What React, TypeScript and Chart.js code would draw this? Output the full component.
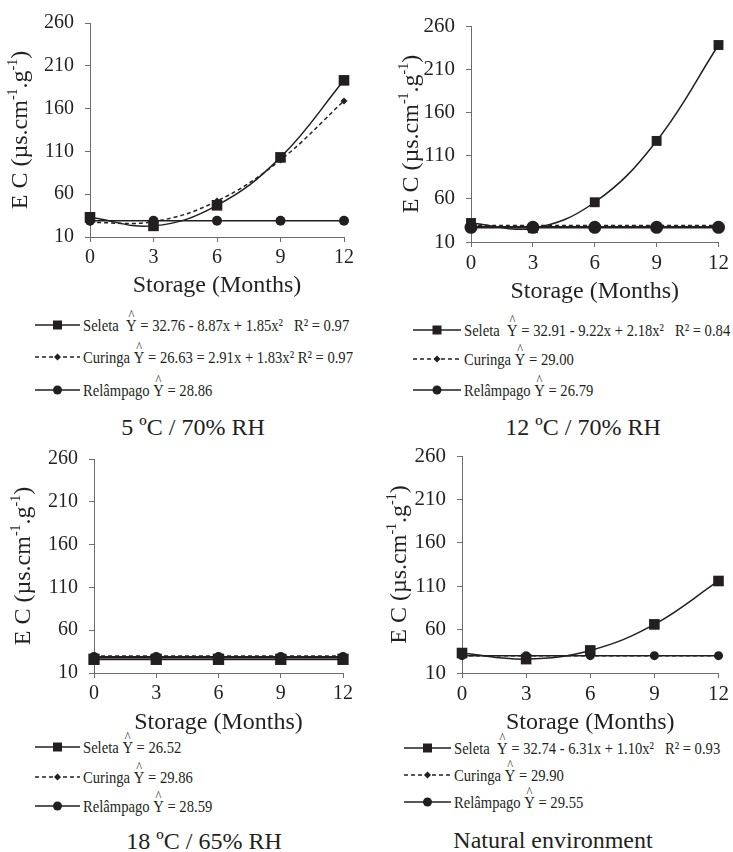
import React, { useEffect, useRef } from 'react';
import { Chart, registerables } from 'chart.js';

Chart.register(...registerables);

// ---------- data ----------
const months = [0, 3, 6, 9, 12];
const yTickValues = [10, 60, 110, 160, 210, 260];
const seriesNames = ['Seleta', 'Curinga', 'Relâmpago'];

// 5 ºC / 70% RH
const seletaA = [33, 23, 47, 103, 193];
const curingaA = [27, 28, 52, 100, 169];
const relampagoA = [29, 29, 29, 29, 29];
const equationsA = ['= 32.76 - 8.87x + 1.85x²   R² = 0.97', '= 26.63 = 2.91x + 1.83x² R² = 0.97', '= 28.86'];

// 12 ºC / 70% RH
const seletaB = [32, 26, 56, 127, 238];
const curingaB = [29, 29, 29, 29, 29];
const relampagoB = [27, 27, 27, 27, 27];
const equationsB = ['= 32.91 - 9.22x + 2.18x²   R² = 0.84', '= 29.00', '= 26.79'];

// 18 ºC / 65% RH
const seletaC = [26, 26, 26, 26, 26];
const curingaC = [30, 30, 30, 30, 30];
const relampagoC = [28.6, 28.6, 28.6, 28.6, 28.6];
const equationsC = ['= 26.52', '= 29.86', '= 28.59'];

// Natural environment
const seletaD = [33, 26, 36, 66, 116];
const curingaD = [30, 30, 30, 30, 30];
const relampagoD = [30, 30, 30, 30, 30];
const equationsD = ['= 32.74 - 6.31x + 1.10x²   R² = 0.93', '= 29.90', '= 29.55'];

const captions = ['5 ºC / 70% RH', '12 ºC / 70% RH', '18 ºC / 65% RH', 'Natural environment'];
const xTitle = 'Storage (Months)';

const INK = '#231f20';
const AXIS = '#6d6d6d';
const SERIF = '"Liberation Serif", "Times New Roman", serif';

type Panel = {
  left: number; top: number; w: number; h: number;
  area: { l: number; r: number; t: number; b: number };
  yTitleX: number; tickSize: number;
  seleta: number[]; curinga: number[]; relampago: number[];
  radius: number[]; lw: number[]; order: number[];
  legend: { x1: number; x2: number; textX: number; rows: number[] };
  equations: string[];
  caption: string; capX: number; capY: number;
  seletaGap: boolean;
};

const panels: Panel[] = [
  {
    left: 0, top: 0, w: 366, h: 300,
    area: { l: 90, r: 344, t: 20, b: 237 },
    yTitleX: 21, tickSize: 20,
    seleta: seletaA, curinga: curingaA, relampago: relampagoA,
    radius: [7.5, 3.5, 5], lw: [1.5, 1.5, 1.5], order: [0, 1, 2],
    legend: { x1: 35, x2: 80, textX: 83, rows: [325, 357, 390] },
    equations: equationsA, caption: captions[0], capX: 193, capY: 427, seletaGap: true,
  },
  {
    left: 366, top: 0, w: 367, h: 310,
    area: { l: 105, r: 357, t: 26, b: 242 },
    yTitleX: 46, tickSize: 21,
    seleta: seletaB, curinga: curingaB, relampago: relampagoB,
    radius: [7, 3.5, 6.5], lw: [1.5, 1.5, 2.5], order: [1, 2, 0],
    legend: { x1: 413, x2: 461, textX: 464, rows: [330, 359, 390] },
    equations: equationsB, caption: captions[1], capX: 583, capY: 427, seletaGap: true,
  },
  {
    left: 0, top: 430, w: 366, h: 310,
    area: { l: 94, r: 343, t: 29, b: 243 },
    yTitleX: 24, tickSize: 20,
    seleta: seletaC, curinga: curingaC, relampago: relampagoC,
    radius: [8, 4, 5], lw: [2, 1.5, 2], order: [0, 1, 2],
    legend: { x1: 35, x2: 80, textX: 83, rows: [747, 777, 806] },
    equations: equationsC, caption: captions[2], capX: 204, capY: 841, seletaGap: false,
  },
  {
    left: 366, top: 430, w: 367, h: 310,
    area: { l: 96, r: 357, t: 26, b: 243 },
    yTitleX: 34, tickSize: 21,
    seleta: seletaD, curinga: curingaD, relampago: relampagoD,
    radius: [7.5, 3.5, 4.5], lw: [1.5, 1.5, 1.5], order: [0, 1, 2],
    legend: { x1: 404, x2: 451, textX: 454, rows: [748, 775, 802] },
    equations: equationsD, caption: captions[3], capX: 553, capY: 840, seletaGap: true,
  },
];

// ---------- rotated y title with superscripts ----------
const yTitlePlugin = {
  id: 'yTitle',
  afterDraw(chart: any, _args: any, opts: any) {
    const { ctx, chartArea } = chart;
    const size = opts.size || 24;
    const parts = [
      { t: 'E C (µs.cm', sup: false },
      { t: '-1', sup: true },
      { t: '.g', sup: false },
      { t: '-1', sup: true },
      { t: ')', sup: false },
    ];
    const big = `${size}px ${SERIF}`;
    const small = `${Math.round(size * 0.6)}px ${SERIF}`;
    ctx.save();
    let total = 0;
    const widths = parts.map((p) => {
      ctx.font = p.sup ? small : big;
      const w = ctx.measureText(p.t).width;
      total += w;
      return w;
    });
    const cy = (chartArea.top + chartArea.bottom) / 2 + (opts.dy || 0);
    ctx.translate(opts.x, cy);
    ctx.rotate(-Math.PI / 2);
    ctx.fillStyle = INK;
    ctx.textBaseline = 'middle';
    ctx.textAlign = 'left';
    let cx = -total / 2;
    parts.forEach((p, i) => {
      ctx.font = p.sup ? small : big;
      ctx.fillText(p.t, cx, p.sup ? -size * 0.3 : 0);
      cx += widths[i];
    });
    ctx.restore();
  },
};

function toPoints(values: number[]) {
  return months.map((m, i) => ({ x: m, y: values[i] }));
}

function ChartPanel({ p }: { p: Panel }) {
  const ref = useRef<HTMLCanvasElement>(null);
  useEffect(() => {
    if (!ref.current) return;
    const tickFont = { family: SERIF, size: p.tickSize };
    const chart = new Chart(ref.current, {
      type: 'line',
      data: {
        datasets: [
          {
            label: seriesNames[0], data: toPoints(p.seleta), borderColor: INK, backgroundColor: INK,
            borderWidth: p.lw[0], pointStyle: 'rect', pointRadius: p.radius[0], pointBorderWidth: 0,
            tension: 0.4, order: p.order[0], clip: false,
          },
          {
            label: seriesNames[1], data: toPoints(p.curinga), borderColor: INK, backgroundColor: INK,
            borderWidth: p.lw[1], borderDash: [4, 3], pointStyle: 'rectRot', pointRadius: p.radius[1], pointBorderWidth: 0,
            tension: 0.4, order: p.order[1], clip: false,
          },
          {
            label: seriesNames[2], data: toPoints(p.relampago), borderColor: INK, backgroundColor: INK,
            borderWidth: p.lw[2], pointStyle: 'circle', pointRadius: p.radius[2], pointBorderWidth: 0,
            tension: 0.4, order: p.order[2], clip: false,
          },
        ],
      } as any,
      options: {
        animation: false,
        responsive: false,
        events: [],
        layout: { padding: { left: 0, top: p.area.t, right: p.w - p.area.r, bottom: 0 } },
        plugins: {
          legend: { display: false },
          tooltip: { enabled: false },
          yTitle: { x: p.yTitleX, size: 24 },
        } as any,
        scales: {
          x: {
            type: 'linear', min: 0, max: 12,
            afterBuildTicks: (s: any) => { s.ticks = months.map((v) => ({ value: v })); },
            afterFit: (s: any) => { s.height = p.h - p.area.b; },
            ticks: { font: tickFont, color: INK, padding: 4, maxRotation: 0, autoSkip: false },
            grid: { drawOnChartArea: false, tickLength: 5, color: AXIS },
            border: { color: AXIS, width: 1 },
            title: {
              display: true, text: xTitle, color: INK,
              font: { family: SERIF, size: 24, lineHeight: 1.2 },
              padding: { top: 0, bottom: Math.max(0, p.h - (p.area.b + 50) - 14.4) },
            },
          },
          y: {
            type: 'linear', min: 10, max: 260,
            afterBuildTicks: (s: any) => { s.ticks = yTickValues.map((v) => ({ value: v })); },
            afterFit: (s: any) => { s.width = p.area.l; },
            ticks: { font: tickFont, color: INK, padding: 11, autoSkip: false },
            grid: { drawOnChartArea: false, tickLength: 5, color: AXIS },
            border: { color: AXIS, width: 1 },
          },
        } as any,
      },
      plugins: [yTitlePlugin],
    });
    return () => chart.destroy();
  }, [p]);
  return (
    <canvas
      ref={ref}
      width={p.w}
      height={p.h}
      style={{ position: 'absolute', left: p.left, top: p.top, width: p.w, height: p.h }}
    />
  );
}

function YHat() {
  return (
    <span style={{ position: 'relative', display: 'inline-block' }}>
      Y
      <span style={{ position: 'absolute', left: 0, right: 0, top: '-0.62em', textAlign: 'center', fontSize: '0.85em' }}>^</span>
    </span>
  );
}

function Marker({ kind, cx, cy }: { kind: number; cx: number; cy: number }) {
  if (kind === 0) return <rect x={cx - 4.5} y={cy - 4.5} width={9} height={9} fill={INK} />;
  if (kind === 1) return <polygon points={`${cx},${cy - 3.5} ${cx + 3.5},${cy} ${cx},${cy + 3.5} ${cx - 3.5},${cy}`} fill={INK} />;
  return <circle cx={cx} cy={cy} r={4.5} fill={INK} />;
}

function Legend({ p }: { p: Panel }) {
  const { x1, x2, textX, rows } = p.legend;
  const w = x2 - x1;
  return (
    <>
      {rows.map((y, i) => (
        <React.Fragment key={i}>
          <svg
            width={w}
            height={14}
            style={{ position: 'absolute', left: x1, top: y - 7, overflow: 'visible' }}
          >
            <line x1={0} y1={7} x2={w} y2={7} stroke={INK} strokeWidth={1.4} strokeDasharray={i === 1 ? '4 3' : undefined} />
            <Marker kind={i} cx={w / 2} cy={7} />
          </svg>
          <div
            style={{
              position: 'absolute', left: textX, top: y, whiteSpace: 'pre',
              fontFamily: SERIF, fontSize: 17, lineHeight: 1, color: INK,
              transform: 'translateY(-50%) scaleX(0.86)', transformOrigin: 'left center',
            }}
          >
            {seriesNames[i]}{i === 0 && p.seletaGap ? '  ' : ' '}<YHat /> {p.equations[i]}
          </div>
        </React.Fragment>
      ))}
      <div
        style={{
          position: 'absolute', left: p.capX, top: p.capY, whiteSpace: 'nowrap',
          fontFamily: SERIF, fontSize: 24, lineHeight: 1, color: INK,
          transform: 'translate(-50%, -50%)',
        }}
      >
        {p.caption}
      </div>
    </>
  );
}

export default function App() {
  return (
    <div style={{ position: 'absolute', left: 0, top: 0, width: 733, height: 852, background: '#fff', overflow: 'hidden' }}>
      {panels.map((p, i) => (
        <React.Fragment key={i}>
          <Legend p={p} />
          <ChartPanel p={p} />
        </React.Fragment>
      ))}
    </div>
  );
}
